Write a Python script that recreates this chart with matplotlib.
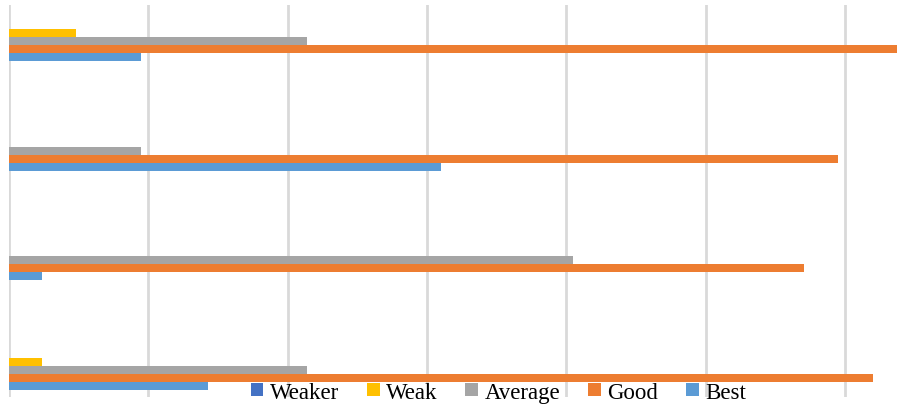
import numpy as np
import matplotlib.pyplot as plt

# categories bottom -> top, values in gridline units
categories = ['1', '2', '3', '4']
series = ['Weaker', 'Weak', 'Average', 'Good', 'Best']
weaker = [0, 0, 0, 0]
weak = [0.24, 0, 0, 0.48]
average = [2.14, 4.05, 0.95, 2.14]
good = [6.20, 5.71, 5.95, 6.60]
best = [1.43, 0.24, 3.10, 0.95]
colors = ['#4472C4', '#FFC000', '#A5A5A5', '#ED7D31', '#5B9BD5']

plt.rcParams['font.family'] = ['Liberation Serif', 'DejaVu Serif']

fig = plt.figure(figsize=(8.97, 4.06), dpi=100)
ax = fig.add_axes([9 / 897, 8 / 406, 888 / 897, 392 / 406])

y = np.arange(len(categories))
h = 8 / 110
data = [weaker, weak, average, good, best]
for i, (name, vals) in enumerate(zip(series, data)):
    off = (2 - i) * h
    ax.barh(y + off, vals, height=h, color=colors[i], label=name, zorder=3)

ax.set_xlim(0, 888 / 139.3)
ax.set_ylim(-27 / 110, 3 + 36 / 110)
ax.set_xticks(np.arange(0, 7))
ax.set_yticks([])
ax.tick_params(axis='x', length=0, labelbottom=False)
ax.grid(axis='x', color='#D9D9D9', linewidth=2, zorder=0)
for s in ax.spines.values():
    s.set_visible(False)

ax.legend(loc='lower center', bbox_to_anchor=(498.5 / 897, 0.006), bbox_transform=fig.transFigure,
          ncol=5, frameon=False, fontsize=16.5, handlelength=0.55, handleheight=0.55,
          handletextpad=0.3, columnspacing=1.2, borderpad=0, borderaxespad=0)

fig.savefig('out.png', dpi=100)
